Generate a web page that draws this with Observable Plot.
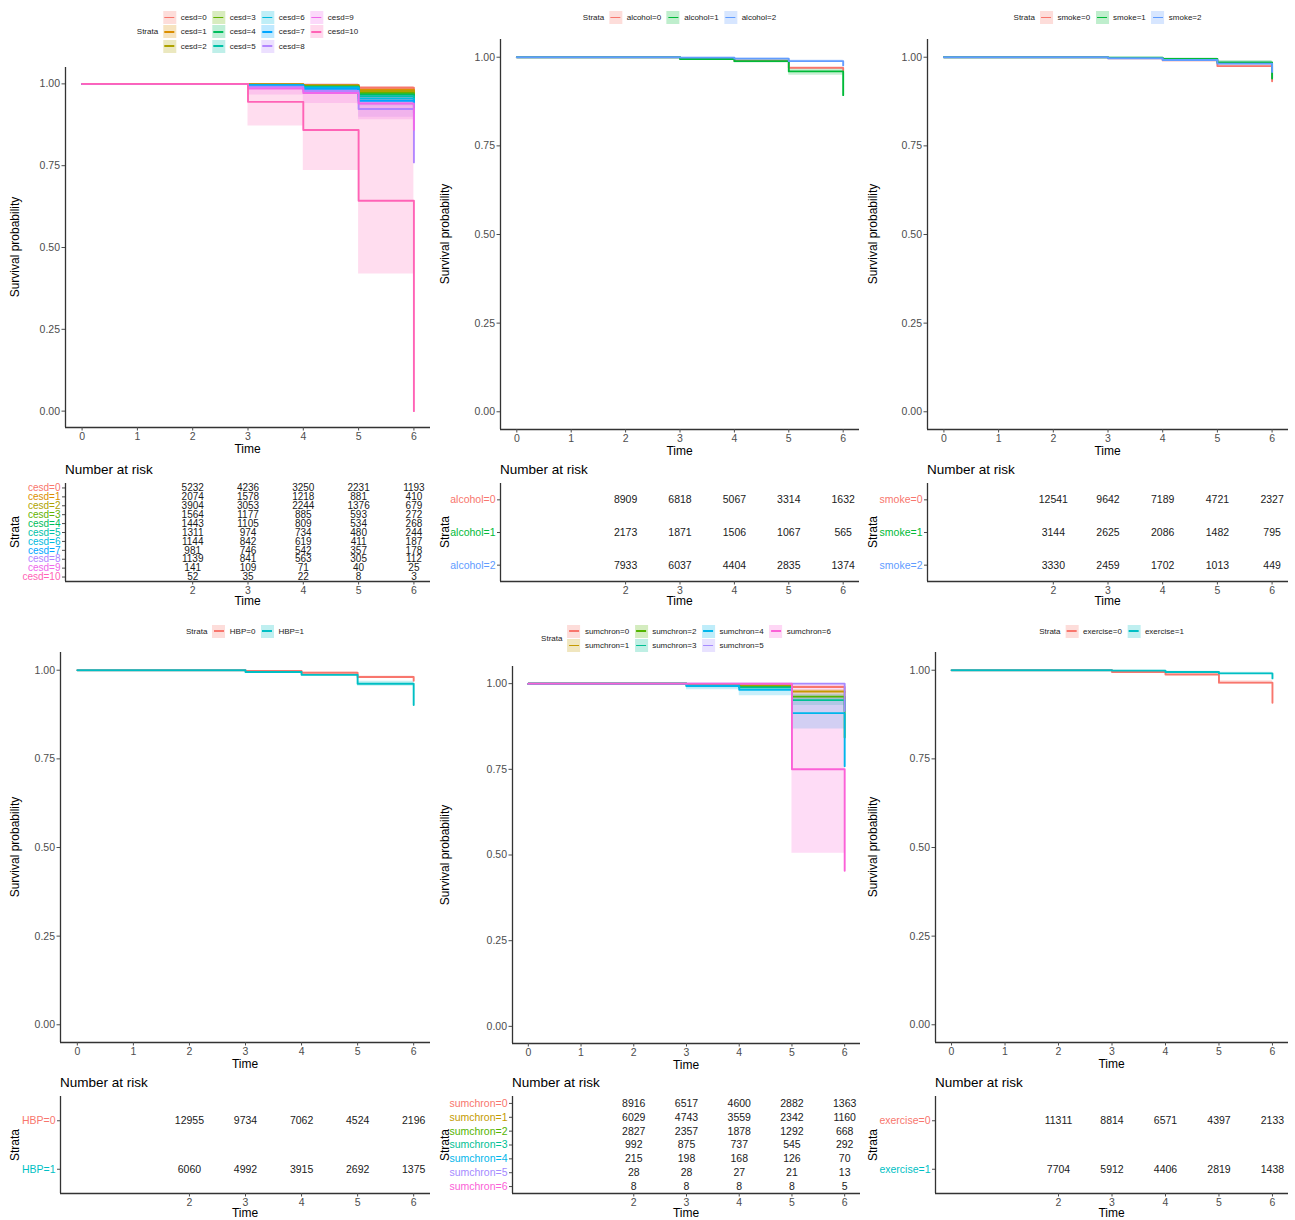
<!DOCTYPE html>
<html><head><meta charset="utf-8">
<script src="https://cdn.jsdelivr.net/npm/d3@7"></script>
<script src="https://cdn.jsdelivr.net/npm/@observablehq/plot@0.6"></script>
<style>
body{margin:0;background:#fff;font-family:"Liberation Sans",Arial,sans-serif;}
#root{position:relative;width:1295px;height:1220px;overflow:hidden;background:#fff;}
.lbl{position:absolute;white-space:nowrap;color:#000;line-height:1;}
.legend{position:absolute;display:flex;align-items:center;font-size:8px;color:#222;transform:translateX(-50%);white-space:nowrap;}
.legend .title{margin-right:5px;}
.lgrid{display:grid;grid-auto-flow:column;column-gap:5.5px;}
.item{display:flex;align-items:center;height:14.3px;}
.key{width:13px;height:13px;position:relative;margin-right:4.5px;}
.key .bg{position:absolute;inset:0;opacity:0.25;}
.key .ln{position:absolute;left:1.5px;right:1.5px;top:5.7px;height:1.7px;}
svg{position:absolute;overflow:visible;}
</style></head>
<body><div id="root"></div>
<script>
const FONT = '"Liberation Sans", Arial, sans-serif';
// ---------- shared axes ----------
const times = [0, 3, 4, 5, 6];
const riskTimes = [2, 3, 4, 5, 6];
const timeTicks = [0, 1, 2, 3, 4, 5, 6];
const survTicks = [0, 0.25, 0.5, 0.75, 1];

// ---------- cesd ----------
const cesdStrata = ["cesd=0","cesd=1","cesd=2","cesd=3","cesd=4","cesd=5","cesd=6","cesd=7","cesd=8","cesd=9","cesd=10"];
const cesdColors = ["#F8766D","#DB8E00","#AEA200","#64B200","#00BD5C","#00C1A7","#00BADE","#00A6FF","#B385FF","#EF67EB","#FF63B6"];
const cesdSurv = [
  [1,0.999,0.997,0.988,0.975],[1,0.998,0.995,0.982,0.960],[1,0.998,0.995,0.978,0.955],
  [1,0.997,0.992,0.972,0.950],[1,0.997,0.991,0.968,0.940],[1,0.996,0.990,0.962,0.935],
  [1,0.996,0.988,0.955,0.925],[1,0.995,0.985,0.948,0.910],[1,0.991,0.978,0.923,0.760],
  [1,0.986,0.972,0.940,0.860],[1,0.945,0.859,0.643,0.000]];
const cesdLower = [
  [1,0.998,0.995,0.984,0.962],[1,0.996,0.991,0.974,0.935],[1,0.997,0.992,0.972,0.940],
  [1,0.994,0.987,0.962,0.925],[1,0.994,0.985,0.957,0.910],[1,0.992,0.983,0.950,0.900],
  [1,0.992,0.980,0.942,0.885],[1,0.990,0.976,0.933,0.860],[1,0.985,0.968,0.898,0.600],
  [1,0.966,0.940,0.890,0.700],[1,0.871,0.735,0.419,0.000]];
const cesdUpper = [
  [1,1.000,0.999,0.992,0.987],[1,1.000,0.999,0.990,0.985],[1,1.000,0.998,0.984,0.970],
  [1,1.000,0.997,0.982,0.975],[1,1.000,0.996,0.979,0.970],[1,1.000,0.996,0.974,0.970],
  [1,1.000,0.995,0.968,0.965],[1,1.000,0.994,0.963,0.960],[1,0.997,0.988,0.950,0.950],
  [1,1.000,1.000,0.990,1.000],[1,1.000,0.990,0.985,0.000]];
const cesdRisk = [
  [5232,4236,3250,2231,1193],[2074,1578,1218,881,410],[3904,3053,2244,1376,679],
  [1564,1177,885,593,272],[1443,1105,809,534,268],[1311,974,734,480,244],
  [1144,842,619,411,187],[981,746,542,357,178],[1139,841,563,305,112],
  [141,109,71,40,25],[52,35,22,8,3]];

// ---------- alcohol ----------
const alcoholStrata = ["alcohol=0","alcohol=1","alcohol=2"];
const alcoholColors = ["#F8766D","#00BA38","#619CFF"];
const alcoholSurv  = [[1,0.996,0.990,0.970,0.962],[1,0.995,0.989,0.960,0.893],[1,0.999,0.996,0.989,0.977]];
const alcoholLower = [[1,0.995,0.988,0.966,0.954],[1,0.992,0.984,0.949,0.860],[1,0.998,0.994,0.986,0.971]];
const alcoholUpper = [[1,0.997,0.992,0.974,0.970],[1,0.998,0.994,0.971,0.930],[1,1.000,0.998,0.992,0.983]];
const alcoholRisk  = [[8909,6818,5067,3314,1632],[2173,1871,1506,1067,565],[7933,6037,4404,2835,1374]];

// ---------- smoke ----------
const smokeStrata = ["smoke=0","smoke=1","smoke=2"];
const smokeColors = ["#F8766D","#00BA38","#619CFF"];
const smokeSurv  = [[1,0.997,0.991,0.975,0.932],[1,0.999,0.995,0.985,0.940],[1,0.997,0.992,0.982,0.958]];
const smokeLower = [[1,0.996,0.989,0.972,0.924],[1,0.998,0.992,0.979,0.920],[1,0.995,0.988,0.975,0.945]];
const smokeUpper = [[1,0.998,0.993,0.978,0.940],[1,1.000,0.998,0.991,0.960],[1,0.999,0.996,0.989,0.971]];
const smokeRisk  = [[12541,9642,7189,4721,2327],[3144,2625,2086,1482,795],[3330,2459,1702,1013,449]];

// ---------- HBP ----------
const hbpStrata = ["HBP=0","HBP=1"];
const hbpColors = ["#F8766D","#00BFC4"];
const hbpSurv  = [[1,0.998,0.993,0.981,0.970],[1,0.995,0.987,0.962,0.902]];
const hbpLower = [[1,0.997,0.991,0.978,0.962],[1,0.993,0.983,0.955,0.885]];
const hbpUpper = [[1,0.999,0.995,0.984,0.978],[1,0.997,0.991,0.969,0.920]];
const hbpRisk  = [[12955,9734,7062,4524,2196],[6060,4992,3915,2692,1375]];

// ---------- sumchron ----------
const sumchronStrata = ["sumchron=0","sumchron=1","sumchron=2","sumchron=3","sumchron=4","sumchron=5","sumchron=6"];
const sumchronColors = ["#F8766D","#C49A00","#53B400","#00C094","#00B6EB","#A58AFF","#FB61D7"];
const sumchronSurv = [
  [1,0.999,0.997,0.990,0.975],[1,0.998,0.994,0.977,0.955],[1,0.997,0.991,0.962,0.843],
  [1,0.993,0.989,0.952,0.920],[1,0.993,0.982,0.914,0.759],[1,1.000,1.000,1.000,0.920],
  [1,1.000,1.000,0.750,0.454]];
const sumchronLower = [
  [1,0.998,0.995,0.986,0.966],[1,0.997,0.991,0.971,0.942],[1,0.995,0.987,0.953,0.800],
  [1,0.988,0.982,0.936,0.880],[1,0.982,0.965,0.868,0.650],[1,1.000,1.000,1.000,0.800],
  [1,1.000,1.000,0.505,0.200]];
const sumchronUpper = [
  [1,1.000,0.999,0.994,0.984],[1,0.999,0.997,0.983,0.968],[1,0.999,0.995,0.971,0.890],
  [1,0.998,0.996,0.968,0.960],[1,1.000,0.999,0.962,0.870],[1,1.000,1.000,1.000,1.000],
  [1,1.000,1.000,1.000,0.800]];
const sumchronRisk = [
  [8916,6517,4600,2882,1363],[6029,4743,3559,2342,1160],[2827,2357,1878,1292,668],
  [992,875,737,545,292],[215,198,168,126,70],[28,28,27,21,13],[8,8,8,8,5]];

// ---------- exercise ----------
const exerciseStrata = ["exercise=0","exercise=1"];
const exerciseColors = ["#F8766D","#00BFC4"];
const exerciseSurv  = [[1,0.995,0.988,0.965,0.908],[1,0.999,0.995,0.991,0.977]];
const exerciseLower = [[1,0.993,0.985,0.960,0.895],[1,0.998,0.993,0.988,0.971]];
const exerciseUpper = [[1,0.997,0.991,0.970,0.921],[1,1.000,0.997,0.994,0.983]];
const exerciseRisk  = [[11311,8814,6571,4397,2133],[7704,5912,4406,2819,1438]];

// ---------- layout ----------
const colLeft = [0, 430, 858];
const panels = [
  {strata:cesdStrata, colors:cesdColors, surv:cesdSurv, lower:cesdLower, upper:cesdUpper, risk:cesdRisk, rows:3, col:0,
   plot:{x0:65,x1:430,y0:67,y1:427}, table:{x0:65,x1:430,y0:483,y1:581}, legendTop:10.3, tableFont:10},
  {strata:alcoholStrata, colors:alcoholColors, surv:alcoholSurv, lower:alcoholLower, upper:alcoholUpper, risk:alcoholRisk, rows:1, col:1,
   plot:{x0:500,x1:859,y0:39,y1:429}, table:{x0:500,x1:859,y0:483,y1:581}, legendTop:10.3, tableFont:10.5},
  {strata:smokeStrata, colors:smokeColors, surv:smokeSurv, lower:smokeLower, upper:smokeUpper, risk:smokeRisk, rows:1, col:2,
   plot:{x0:927,x1:1288,y0:39,y1:429}, table:{x0:927,x1:1288,y0:483,y1:581}, legendTop:10.3, tableFont:10.5},
  {strata:hbpStrata, colors:hbpColors, surv:hbpSurv, lower:hbpLower, upper:hbpUpper, risk:hbpRisk, rows:1, col:0,
   plot:{x0:60,x1:430,y0:652,y1:1042}, table:{x0:60,x1:430,y0:1096,y1:1193}, legendTop:624, tableFont:10.5},
  {strata:sumchronStrata, colors:sumchronColors, surv:sumchronSurv, lower:sumchronLower, upper:sumchronUpper, risk:sumchronRisk, rows:2, col:1,
   plot:{x0:512,x1:860,y0:666,y1:1043}, table:{x0:512,x1:860,y0:1096,y1:1193}, legendTop:624, tableFont:10.5},
  {strata:exerciseStrata, colors:exerciseColors, surv:exerciseSurv, lower:exerciseLower, upper:exerciseUpper, risk:exerciseRisk, rows:1, col:2,
   plot:{x0:935,x1:1288,y0:652,y1:1042}, table:{x0:935,x1:1288,y0:1096,y1:1193}, legendTop:624, tableFont:10.5}
];

const root = document.getElementById("root");
const intFmt = d => String(d);

function label(text, x, y, size, opts = {}) {
  const d = document.createElement("div");
  d.className = "lbl";
  d.textContent = text;
  d.style.fontSize = size + "px";
  d.style.left = x + "px";
  d.style.top = y + "px";
  let tf = opts.left ? "translate(0,-50%)" : "translate(-50%,-50%)";
  if (opts.rotate) tf += " rotate(-90deg)";
  d.style.transform = tf;
  root.appendChild(d);
}

function legend(p) {
  const lg = document.createElement("div");
  lg.className = "legend";
  lg.style.left = ((p.plot.x0 + p.plot.x1) / 2) + "px";
  lg.style.top = p.legendTop + "px";
  const t = document.createElement("div");
  t.className = "title"; t.textContent = "Strata";
  lg.appendChild(t);
  const g = document.createElement("div");
  g.className = "lgrid";
  g.style.gridTemplateRows = `repeat(${p.rows}, 14.3px)`;
  p.strata.forEach((s, i) => {
    const it = document.createElement("div"); it.className = "item";
    const k = document.createElement("div"); k.className = "key";
    const bg = document.createElement("div"); bg.className = "bg"; bg.style.background = p.colors[i];
    const ln = document.createElement("div"); ln.className = "ln"; ln.style.background = p.colors[i];
    k.appendChild(bg); k.appendChild(ln);
    const tx = document.createElement("span"); tx.textContent = s;
    it.appendChild(k); it.appendChild(tx);
    g.appendChild(it);
  });
  lg.appendChild(g);
  root.appendChild(lg);
}

function survivalPlot(p) {
  const data = [];
  p.strata.forEach((s, i) => times.forEach((t, j) =>
    data.push({strata: s, time: t, surv: p.surv[i][j], lo: p.lower[i][j], hi: p.upper[i][j]})));
  const f = p.plot, mL = 40, mR = 6, mT = 6, mB = 34;
  const svg = Plot.plot({
    width: f.x1 - f.x0 + mL + mR, height: f.y1 - f.y0 + mT + mB,
    marginLeft: mL, marginRight: mR, marginTop: mT, marginBottom: mB,
    style: {fontFamily: FONT, fontSize: "10px", color: "#4d4d4d", background: "transparent"},
    x: {domain: [-0.3, 6.3]},
    y: {domain: [-0.05, 1.05]},
    color: {domain: p.strata, range: p.colors},
    marks: [
      Plot.areaY(data, {x: "time", y1: "lo", y2: "hi", z: "strata", fill: "strata", fillOpacity: 0.22, curve: "step-after"}),
      Plot.line(data, {x: "time", y: "surv", z: "strata", stroke: "strata", strokeWidth: 1.9, curve: "step-after"}),
      Plot.ruleX([-0.3], {stroke: "#333", strokeWidth: 1.3}),
      Plot.ruleY([-0.05], {stroke: "#333", strokeWidth: 1.3}),
      Plot.axisX({ticks: timeTicks, tickFormat: intFmt, tickSize: 3.5, tickPadding: 1.5, fontSize: 10.5, label: null}),
      Plot.axisY({ticks: survTicks, tickFormat: d3.format(".2f"), tickSize: 3.5, tickPadding: 2, fontSize: 10.5, label: null})
    ]
  });
  svg.style.left = (f.x0 - mL) + "px";
  svg.style.top = (f.y0 - mT) + "px";
  root.appendChild(svg);
  const cx = colLeft[p.col] + 15;
  label("Time", (f.x0 + f.x1) / 2, f.y1 + 22, 12);
  label("Survival probability", cx, (f.y0 + f.y1) / 2, 12, {rotate: true});
}

function riskTable(p) {
  const n = p.strata.length;
  const data = [];
  p.strata.forEach((s, i) => riskTimes.forEach((t, j) =>
    data.push({i, strata: s, time: t, n: p.risk[i][j]})));
  const f = p.table, mL = 75, mR = 6, mT = 4, mB = 30;
  const svg = Plot.plot({
    width: f.x1 - f.x0 + mL + mR, height: f.y1 - f.y0 + mT + mB,
    marginLeft: mL, marginRight: mR, marginTop: mT, marginBottom: mB,
    style: {fontFamily: FONT, fontSize: "10px", color: "#4d4d4d", background: "transparent"},
    x: {domain: [-0.3, 6.3]},
    y: {domain: [n - 0.5, -0.5]},
    color: {domain: p.strata, range: p.colors},
    marks: [
      Plot.text(data, {x: "time", y: "i", text: d => String(d.n), fontSize: p.tableFont, fill: "#1a1a1a"}),
      Plot.text(p.strata, {frameAnchor: "left", y: (d, i) => i, text: d => d, fill: d => d, textAnchor: "end", dx: -5, fontSize: p.tableFont}),
      Plot.axisY({ticks: d3.range(n), tickSize: 3, tickFormat: () => "", label: null}),
      Plot.ruleX([-0.3], {stroke: "#333", strokeWidth: 1.3}),
      Plot.ruleY([n - 0.5], {stroke: "#333", strokeWidth: 1.3}),
      Plot.axisX({ticks: riskTimes, tickFormat: intFmt, tickSize: 3.5, tickPadding: 1.5, fontSize: 10.5, label: null})
    ]
  });
  svg.style.left = (f.x0 - mL) + "px";
  svg.style.top = (f.y0 - mT) + "px";
  root.appendChild(svg);
  label("Number at risk", f.x0, f.y0 - 13, 13.5, {left: true});
  label("Time", (f.x0 + f.x1) / 2, f.y1 + 20, 12);
  label("Strata", colLeft[p.col] + 15, (f.y0 + f.y1) / 2, 12, {rotate: true});
}

panels.forEach(p => { legend(p); survivalPlot(p); riskTable(p); });
</script>
</body></html>
